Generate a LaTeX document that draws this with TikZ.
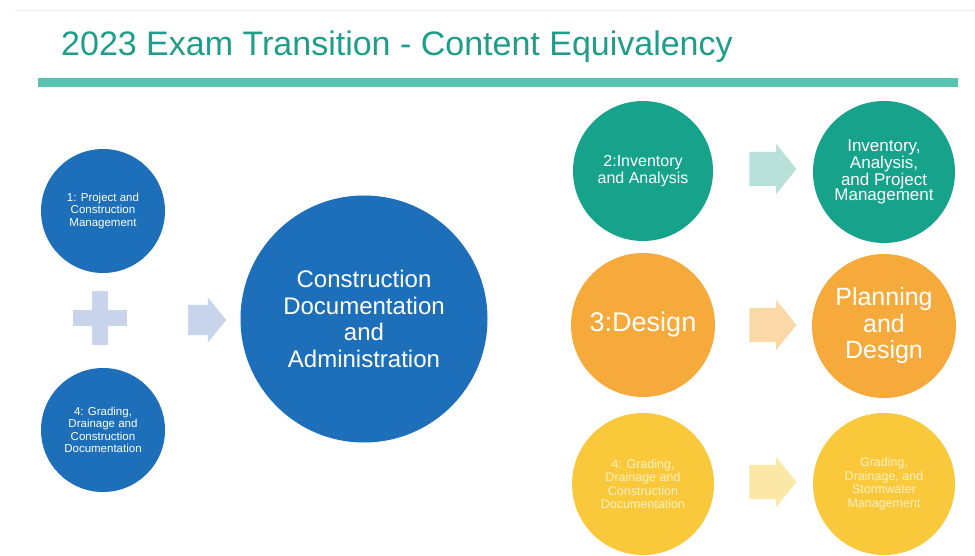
\documentclass[tikz,border=0pt]{standalone}
\usepackage{fontspec}
\setmainfont{Liberation Sans}
\usetikzlibrary{shapes.arrows}

\definecolor{blueD}{HTML}{1C6FB8}
\definecolor{blueL}{HTML}{C8D4EC}
\definecolor{tealD}{HTML}{17A28B}
\definecolor{tealL}{HTML}{B7E1D9}
\definecolor{tealT}{HTML}{1E9E8A}
\definecolor{tealB}{HTML}{58C2B3}
\definecolor{orangeD}{HTML}{F6AA3B}
\definecolor{orangeL}{HTML}{FBD8A8}
\definecolor{yellowD}{HTML}{F9C93B}
\definecolor{yellowL}{HTML}{FCE8A6}
\definecolor{yellowT}{HTML}{FFF1C6}

\newcommand{\fsz}[2]{\fontsize{#1}{#2}\selectfont}

\tikzset{
  stage/.style={circle, inner sep=0pt, align=center, text=white},
  flow/.style={single arrow, draw=none, inner xsep=0pt, inner ysep=17pt,
    single arrow head extend=8pt, single arrow tip angle=102, minimum height=47pt}
}

\begin{document}
\begin{tikzpicture}[x=1pt, y=-1pt]
    \useasboundingbox[fill=white] (0,0) rectangle (975,556);

    % title
    \draw[gray!12] (15,10) -- (975,10);
    \node[anchor=base west, text=tealT, font=\fsz{34}{40}, inner sep=0pt] (title) at (61,56)
      {2023 Exam Transition - Content Equivalency};
    \fill[tealB] (38,78) rectangle (958,87);

    % left part
    \node[stage, fill=blueD, minimum size=124pt, font=\fsz{11.5}{12.5}] (prj) at (103,211)
      {1: Project and\\Construction\\Management};
    \node[stage, fill=blueD, minimum size=124pt, font=\fsz{11.5}{12.5}] (grd) at (103,430)
      {4: Grading,\\Drainage and\\Construction\\Documentation};
    \node[fill=blueL, minimum width=54pt, minimum height=16pt, inner sep=0pt] (plusH) at (100,318) {};
    \node[fill=blueL, minimum width=16pt, minimum height=54pt, inner sep=0pt] (plusV) at (100,318) {};
    \node[flow, fill=blueL, minimum height=38pt, inner ysep=15pt, single arrow head extend=7.5pt] (arB) at (201,320) {};
    \node[stage, fill=blueD, minimum size=247pt, font=\fsz{24}{26.5}] (cda) at (364,319)
      {Construction\\Documentation\\and\\Administration};

    % right part
    \node[stage, fill=tealD, minimum size=140pt, font=\fsz{16}{17.5}] (inv) at (643,171)
      {2:Inventory\\and Analysis};
    \node[flow, fill=tealL] (arT) at (766,169) {};
    \node[stage, fill=tealD, minimum size=142pt, font=\fsz{17}{15.5}] (ipm) at (884,172)
      {Inventory,\\Analysis,\\and Project\\Management};

    \node[stage, fill=orangeD, minimum size=144pt, font=\fsz{27}{30}] (dsg) at (643,325)
      {3:Design};
    \node[flow, fill=orangeL] (arO) at (766,325) {};
    \node[stage, fill=orangeD, minimum size=144pt, font=\fsz{25}{26.5}] (pld) at (884,326)
      {Planning\\and\\Design};

    \node[stage, fill=yellowD, text=yellowT, minimum size=142pt, font=\fsz{12.5}{13.5}] (gdc) at (643,484)
      {4: Grading,\\Drainage and\\Construction\\Documentation};
    \node[flow, fill=yellowL] (arY) at (766,482) {};
    \node[stage, fill=yellowD, text=yellowT, minimum size=142pt, font=\fsz{12.5}{13.5}] (gds) at (884,484)
      {Grading,\\Drainage, and\\Stormwater\\Management};

  \end{tikzpicture}
\end{document}
